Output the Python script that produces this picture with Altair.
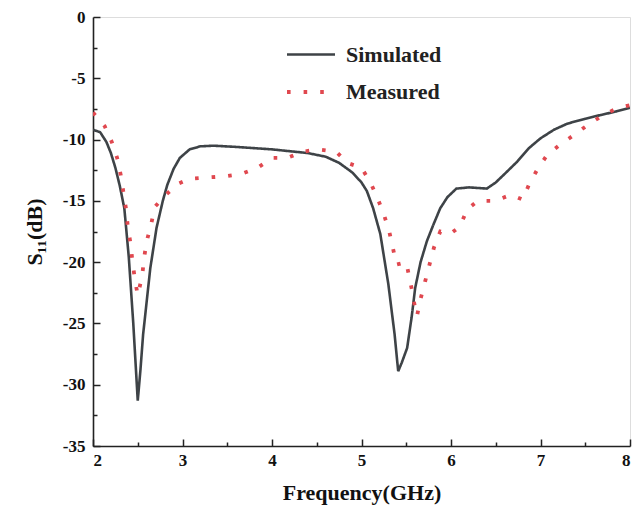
import altair as alt
import pandas as pd

sim_f = [2.0, 2.08, 2.15, 2.2, 2.25, 2.3, 2.35, 2.4, 2.45, 2.5, 2.53, 2.56, 2.6, 2.64,
         2.71, 2.78, 2.83, 2.9, 2.97, 3.08, 3.2, 3.35, 3.6, 4.0, 4.4, 4.6, 4.75, 4.9,
         5.0, 5.06, 5.13, 5.21, 5.3, 5.37, 5.41, 5.45, 5.51, 5.56, 5.6, 5.66, 5.73,
         5.8, 5.88, 5.96, 6.06, 6.2, 6.4, 6.5, 6.6, 6.74, 6.87, 7.0, 7.15, 7.3, 7.5,
         7.67, 7.85, 8.0]
sim_s = [-9.2, -9.4, -10.2, -11.1, -12.3, -13.8, -15.6, -19.6, -25.0, -31.3, -28.8,
         -25.9, -23.2, -20.5, -17.2, -15.0, -13.7, -12.4, -11.5, -10.8, -10.55, -10.5,
         -10.6, -10.8, -11.1, -11.4, -11.9, -12.7, -13.5, -14.2, -15.6, -17.7, -21.8,
         -25.9, -28.9, -28.2, -27.0, -24.5, -22.1, -20.0, -18.3, -17.0, -15.6, -14.7,
         -14.0, -13.9, -14.0, -13.5, -12.8, -11.8, -10.7, -9.9, -9.2, -8.7, -8.3,
         -8.0, -7.7, -7.4]

mea_f = [2.0, 2.13, 2.21, 2.27, 2.31, 2.34, 2.37, 2.39, 2.42, 2.44, 2.47, 2.5, 2.55,
         2.57, 2.6, 2.65, 2.69, 2.8, 2.95, 3.08, 3.27, 3.47, 3.66, 3.84, 4.0, 4.17,
         4.34, 4.51, 4.72, 4.84, 5.0, 5.1, 5.18, 5.25, 5.31, 5.35, 5.39, 5.5, 5.53,
         5.57, 5.6, 5.62, 5.66, 5.71, 5.76, 5.81, 5.88, 5.99, 6.1, 6.18, 6.3, 6.49,
         6.67, 6.8, 6.87, 6.96, 7.07, 7.22, 7.38, 7.53, 7.7, 7.87, 8.0]
mea_s = [-7.8, -8.9, -10.2, -11.5, -12.9, -14.3, -15.7, -17.2, -18.5, -19.9, -21.5,
         -22.7, -21.1, -19.7, -18.3, -16.9, -15.5, -14.6, -13.6, -13.2, -13.1, -13.0,
         -12.8, -12.3, -11.5, -11.5, -11.0, -10.8, -11.0, -11.9, -12.3, -13.5, -14.8,
         -16.1, -17.5, -18.8, -20.2, -20.0, -21.1, -22.5, -23.8, -24.4, -23.0, -21.6,
         -20.2, -18.8, -17.5, -17.7, -17.1, -15.7, -15.0, -15.0, -14.5, -14.9, -13.7,
         -12.5, -11.3, -10.4, -9.6, -8.8, -8.0, -7.4, -7.2]

series_names = ["Simulated", "Measured"]
x_major = [2, 3, 4, 5, 6, 7, 8]
x_minor = [2.5, 3.5, 4.5, 5.5, 6.5, 7.5]
y_major = [0, -5, -10, -15, -20, -25, -30, -35]
y_minor = [-2.5, -7.5, -12.5, -17.5, -22.5, -27.5, -32.5]

assert len(sim_f) == len(sim_s) and len(mea_f) == len(mea_s)

df = pd.concat([
    pd.DataFrame({"f": sim_f, "s": sim_s, "series": "Simulated"}),
    pd.DataFrame({"f": mea_f, "s": mea_s, "series": "Measured"}),
])

FONT = "Liberation Serif"
xs = alt.Scale(domain=[2, 8], nice=False, zero=False)
ys = alt.Scale(domain=[-35, 0], nice=False, zero=False)
W, H = 537, 429

legend_kw = dict(title=None, orient="none", legendX=192, legendY=12,
                 symbolType="stroke", symbolSize=2304, symbolStrokeWidth=3.2,
                 labelFont=FONT, labelFontSize=22, labelFontWeight="bold",
                 labelColor="#222", labelOffset=9, rowPadding=-10)

base = alt.Chart(df)

lines = base.mark_line(strokeCap="butt", clip=True).encode(
    x=alt.X("f:Q", scale=xs, axis=alt.Axis(
        orient="bottom", values=x_major, ticks=False, grid=False, title="Frequency(GHz)",
        labelExpr="toString(datum.value)",
        labelFont=FONT, labelFontSize=17, labelFontWeight="bold", labelColor="#111",
        labelPadding=6, titleFont=FONT, titleFontSize=22, titleFontWeight="bold",
        titleColor="#111", titlePadding=14, domainColor="#222", domainWidth=1.6)),
    y=alt.Y("s:Q", scale=ys, axis=alt.Axis(
        orient="left", values=y_major, ticks=False, grid=False, title="S₁₁(dB)",
        labelExpr="toString(datum.value)",
        labelFont=FONT, labelFontSize=17, labelFontWeight="bold", labelColor="#111",
        labelPadding=8, titleFont=FONT, titleFontSize=22, titleFontWeight="bold",
        titleColor="#111", titlePadding=16, domainColor="#222", domainWidth=1.6)),
    color=alt.Color("series:N", scale=alt.Scale(domain=series_names, range=["#3e4347", "#e0484f"]),
                    legend=alt.Legend(**legend_kw)),
    strokeDash=alt.StrokeDash("series:N", scale=alt.Scale(domain=series_names, range=[[1, 0], [3.6, 13]]),
                              legend=alt.Legend(**legend_kw)),
    strokeWidth=alt.StrokeWidth("series:N", scale=alt.Scale(domain=series_names, range=[2.6, 3.8]), legend=None),
    detail="series:N",
    order="f:Q",
)

def tick_layer(xv, yv, size):
    return base.mark_line(opacity=0).encode(
        x=alt.X("f:Q", scale=xs, axis=alt.Axis(orient="top", offset=-H, values=xv, labels=False,
                                               domain=False, grid=False, title=None, tickSize=size,
                                               tickColor="#222", tickWidth=1.5)),
        y=alt.Y("s:Q", scale=ys, axis=alt.Axis(orient="right", offset=-W, values=yv, labels=False,
                                               domain=False, grid=False, title=None, tickSize=size,
                                               tickColor="#222", tickWidth=1.5)),
        detail="series:N",
    )

chart = alt.layer(lines, tick_layer(x_major, y_major, 7), tick_layer(x_minor, y_minor, 4)).resolve_axis(
    x="independent", y="independent"
).properties(
    width=W, height=H,
    autosize=alt.AutoSizeParams(type="none"),
    padding={"left": 85, "top": 9, "right": 4, "bottom": 62},
).configure_view(stroke="#222", strokeWidth=1.6).configure(background="white")

chart.save("out.html", embed_options={"renderer": "svg", "actions": False})
